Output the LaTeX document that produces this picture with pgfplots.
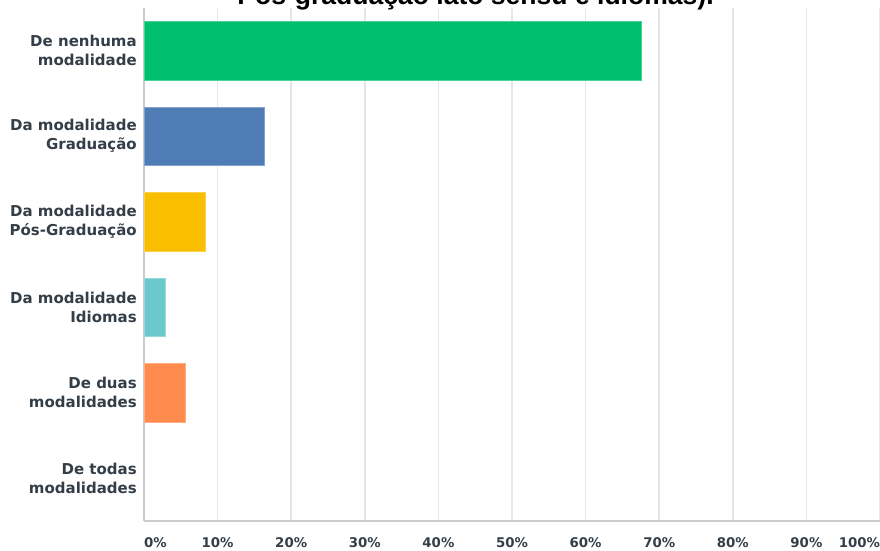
\documentclass[border=0pt]{standalone}
\usepackage{pgfplots}
\pgfplotsset{compat=1.18}
\usepackage{fontspec}
\setmainfont{DejaVu Sans}
\newfontfamily\titlefont{Liberation Sans}
\definecolor{cgreen}{HTML}{00BF6F}
\definecolor{cblue}{HTML}{507CB6}
\definecolor{cyellow}{HTML}{F9BE00}
\definecolor{cteal}{HTML}{6BC8CD}
\definecolor{corange}{HTML}{FF8B4F}
\definecolor{ctext}{HTML}{333E48}
\definecolor{cgrid}{HTML}{E6E6E6}
\definecolor{caxis}{HTML}{CCCCCC}
\begin{document}
\begin{tikzpicture}[x=0.75pt,y=0.75pt]
\path[use as bounding box, clip] (0,0) rectangle (880,550);
\begin{axis}[
  at={(108pt,21.75pt)}, anchor=south west,
  scale only axis, width=552pt, height=384.75pt,
  xmin=0, xmax=100, ymin=-0.5, ymax=5.5, y dir=reverse,
  xbar, bar width=0.68, bar shift=0pt,
  axis x line*=bottom, axis y line*=left,
  axis line style={caxis, line width=1.2pt, -},
  xtick={0,10,...,100},
  xticklabels={\makebox[0pt][l]{0\%},10\%,20\%,30\%,40\%,50\%,60\%,70\%,80\%,90\%,\makebox[0pt][r]{100\%}},
  ytick={0,1,2,3,4,5},
  yticklabels={{De nenhuma\\modalidade},{Da modalidade\\Graduação},{Da modalidade\\Pós-Graduação},{Da modalidade\\Idiomas},{De duas\\modalidades},{De todas\\modalidades}},
  major tick length=0pt,
  xmajorgrids, grid style={cgrid, line width=1.1pt},
  ymajorgrids=false,
  /pgf/number format/assume math mode=true,
  xticklabel style={font=\bfseries\fontsize{10}{12}\selectfont, text=ctext, yshift=-9pt},
  yticklabel style={font=\bfseries\fontsize{11.25}{14.25}\selectfont, text=ctext, align=right, inner sep=0pt, xshift=-5.25pt},
  clip=false,
]
\addplot[fill=cgreen, draw=cgreen!70!white, line width=0.4pt] coordinates {(67.5,0)};
\addplot[fill=cblue, draw=cblue!70!white, line width=0.4pt] coordinates {(16.3,1)};
\addplot[fill=cyellow, draw=cyellow!70!white, line width=0.4pt] coordinates {(8.3,2)};
\addplot[fill=cteal, draw=cteal!70!white, line width=0.4pt] coordinates {(2.9,3)};
\addplot[fill=corange, draw=corange!70!white, line width=0.4pt] coordinates {(5.6,4)};
\end{axis}
\node[anchor=base, font=\titlefont\bfseries\fontsize{19.9}{24}\selectfont, inner sep=0pt] at (475.5,545) {Pós-graduação lato sensu e idiomas).};
\end{tikzpicture}
\end{document}
